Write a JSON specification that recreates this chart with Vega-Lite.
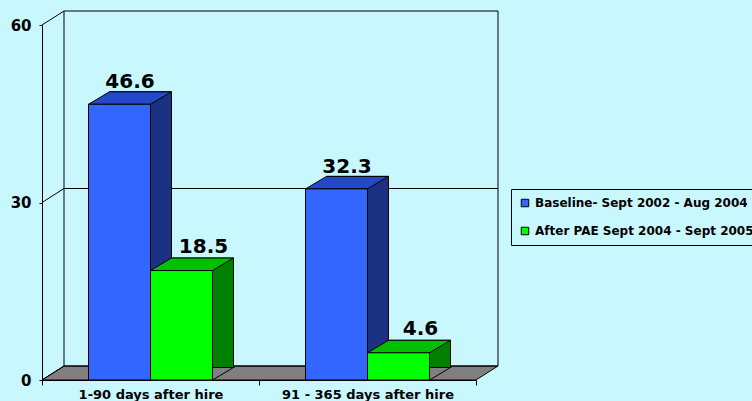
{
  "$schema": "https://vega.github.io/schema/vega-lite/v6.json",
  "width": 434,
  "height": 355,
  "autosize": "none",
  "padding": {"left": 42, "top": 25, "right": 276, "bottom": 21},
  "background": "#C8F8FE",
  "config": {
    "view": {"stroke": null},
    "font": "DejaVu Sans",
    "axis": {"domainColor": "black", "tickColor": "black", "labelFont": "DejaVu Sans", "labelFontWeight": "bold", "labelColor": "black", "grid": false, "labelLimit": 300},
    "axisX": {"labelAngle": 0, "labelAlign": "center", "labelBaseline": "top", "tickBand": "extent", "tickSize": 5, "labelFontSize": 13, "labelPadding": 3},
    "axisY": {"tickSize": 3, "labelAlign": "right", "labelBaseline": "middle", "labelFontSize": 15, "labelPadding": 8, "labelFlush": false, "labelOverlap": false}
  },
  "data": {
    "values": [
      {"period": "1-90 days after hire", "series": "Baseline- Sept 2002 - Aug 2004", "value": 46.6},
      {"period": "1-90 days after hire", "series": "After PAE Sept 2004 - Sept 2005", "value": 18.5},
      {"period": "91 - 365 days after hire", "series": "Baseline- Sept 2002 - Aug 2004", "value": 32.3},
      {"period": "91 - 365 days after hire", "series": "After PAE Sept 2004 - Sept 2005", "value": 4.6}
    ]
  },
  "resolve": {"scale": {"xOffset": "independent"}},
  "layer": [
    {
      "description": "floor of the 3D box",
      "data": {"values": [{}]},
      "mark": {"type": "point", "shape": "M0,0L434,0L456,-14L22,-14Z", "size": 4, "filled": true, "fill": "#808080", "stroke": "black", "strokeWidth": 1, "opacity": 1},
      "encoding": {"x": {"value": 0}, "y": {"datum": 0, "type": "quantitative", "axis": {"title": null, "values": [0, 30, 60], "labelAlign": "right"}}}
    },
    {
      "description": "back wall outline",
      "data": {"values": [{}]},
      "mark": {"type": "rect", "fill": "transparent", "stroke": "black", "strokeWidth": 1, "xOffset": 22, "x2Offset": 22, "yOffset": -14, "y2Offset": -14},
      "encoding": {"x": {"value": 0}, "x2": {"value": "width"}, "y": {"datum": 60, "type": "quantitative", "axis": {"title": null, "values": [0, 30, 60], "labelAlign": "right"}}, "y2": {"datum": 0}}
    },
    {
      "description": "gridline on the back wall",
      "data": {"values": [{}]},
      "mark": {"type": "rule", "color": "black", "strokeWidth": 1, "xOffset": 22, "x2Offset": 22, "yOffset": -14},
      "encoding": {"x": {"value": 0}, "x2": {"value": "width"}, "y": {"datum": 30, "type": "quantitative", "axis": {"title": null, "values": [0, 30, 60], "labelAlign": "right"}}}
    },
    {
      "description": "gridlines running along the side wall",
      "data": {"values": [{"level": 0}, {"level": 30}, {"level": 60}]},
      "mark": {"type": "rule", "color": "black", "strokeWidth": 1, "x2Offset": 22, "y2Offset": -14},
      "encoding": {
        "x": {"value": 0},
        "x2": {"value": 0},
        "y": {"field": "level", "type": "quantitative", "axis": {"title": null, "values": [0, 30, 60], "labelAlign": "right"}},
        "y2": {"field": "level"}
      }
    },
    {
      "description": "rear box of each column, seen as its right side",
      "mark": {"type": "bar", "stroke": "black", "strokeWidth": 1, "yOffset": -12.5, "y2Offset": 0.01},
      "encoding": {
        "x": {"field": "period", "type": "nominal", "sort": null, "scale": {"paddingInner": 0, "paddingOuter": 0}, "axis": {"title": null}},
        "y": {"field": "value", "type": "quantitative", "scale": {"domain": [0, 60], "nice": false}, "axis": {"title": null, "values": [0, 30, 60], "labelAlign": "right"}},
        "xOffset": {
          "field": "series",
          "type": "nominal",
          "scale": {"domain": ["Baseline- Sept 2002 - Aug 2004", "After PAE Sept 2004 - Sept 2005"], "range": [21, 238], "paddingInner": 0, "paddingOuter": 0.75}
        },
        "fill": {
          "condition": {"test": "datum.series === 'Baseline- Sept 2002 - Aug 2004'", "value": "#1B3282"},
          "value": "#008000"
        }
      }
    },
    {
      "description": "floor showing beside the foot of each column",
      "mark": {"type": "point", "shape": "M53,0L31,0L52,-12.5L53,-12.5", "size": 4, "filled": true, "fill": "#808080", "stroke": "black", "strokeWidth": 1, "opacity": 1},
      "encoding": {
        "x": {"field": "period", "type": "nominal", "sort": null, "scale": {"paddingInner": 0, "paddingOuter": 0}, "axis": {"title": null}},
        "xOffset": {
          "field": "series",
          "type": "nominal",
          "scale": {"type": "band", "domain": ["Baseline- Sept 2002 - Aug 2004", "After PAE Sept 2004 - Sept 2005"], "paddingInner": 0, "paddingOuter": 0.75}
        },
        "y": {"datum": 0, "type": "quantitative", "axis": {"title": null, "values": [0, 30, 60], "labelAlign": "right"}}
      }
    },
    {
      "description": "top face of each column",
      "mark": {"type": "point", "shape": "M-31,0L31,0L52,-12.5L-10,-12.5Z", "size": 4, "filled": true, "stroke": "black", "strokeWidth": 1, "opacity": 1},
      "encoding": {
        "x": {"field": "period", "type": "nominal", "sort": null, "scale": {"paddingInner": 0, "paddingOuter": 0}, "axis": {"title": null}},
        "y": {"field": "value", "type": "quantitative", "scale": {"domain": [0, 60], "nice": false}, "axis": {"title": null, "values": [0, 30, 60], "labelAlign": "right"}},
        "xOffset": {
          "field": "series",
          "type": "nominal",
          "scale": {"type": "band", "domain": ["Baseline- Sept 2002 - Aug 2004", "After PAE Sept 2004 - Sept 2005"], "paddingInner": 0, "paddingOuter": 0.75}
        },
        "fill": {
          "condition": {"test": "datum.series === 'Baseline- Sept 2002 - Aug 2004'", "value": "#2449C8"},
          "value": "#00C000"
        }
      }
    },
    {
      "description": "front face of each column",
      "mark": {"type": "bar", "stroke": "black", "strokeWidth": 1},
      "encoding": {
        "x": {"field": "period", "type": "nominal", "sort": null, "scale": {"paddingInner": 0, "paddingOuter": 0}, "axis": {"title": null}},
        "y": {"field": "value", "type": "quantitative", "scale": {"domain": [0, 60], "nice": false}, "axis": {"title": null, "values": [0, 30, 60], "labelAlign": "right"}},
        "xOffset": {
          "field": "series",
          "type": "nominal",
          "scale": {"domain": ["Baseline- Sept 2002 - Aug 2004", "After PAE Sept 2004 - Sept 2005"], "paddingInner": 0, "paddingOuter": 0.75}
        },
        "fill": {
          "field": "series",
          "type": "nominal",
          "scale": {"domain": ["Baseline- Sept 2002 - Aug 2004", "After PAE Sept 2004 - Sept 2005"], "range": ["#3366FF", "#00FF00"]},
          "legend": {
            "title": null,
            "orient": "none",
            "legendX": 469,
            "legendY": 164,
            "symbolType": "square",
            "symbolSize": 56,
            "symbolStrokeColor": "black",
            "symbolStrokeWidth": 1,
            "labelFont": "DejaVu Sans",
            "labelFontWeight": "bold",
            "labelFontSize": 12,
            "labelColor": "black",
            "labelOffset": 4,
            "labelLimit": 400,
            "rowPadding": 16,
            "padding": 8,
            "strokeColor": "black",
            "fillColor": "#C8F8FE"
          }
        }
      }
    },
    {
      "description": "value labels, baseline series",
      "transform": [{"filter": "datum.series === 'Baseline- Sept 2002 - Aug 2004'"}],
      "mark": {"type": "text", "font": "DejaVu Sans", "fontWeight": "bold", "fontSize": 20, "color": "black", "align": "center", "baseline": "alphabetic", "dx": 10.5, "dy": -16},
      "encoding": {
        "x": {"field": "period", "type": "nominal", "sort": null, "scale": {"paddingInner": 0, "paddingOuter": 0}, "axis": {"title": null}},
        "y": {"field": "value", "type": "quantitative", "scale": {"domain": [0, 60], "nice": false}, "axis": {"title": null, "values": [0, 30, 60], "labelAlign": "right"}},
        "xOffset": {
          "field": "series",
          "type": "nominal",
          "scale": {"type": "band", "domain": ["Baseline- Sept 2002 - Aug 2004", "After PAE Sept 2004 - Sept 2005"], "paddingInner": 0, "paddingOuter": 0.75}
        },
        "text": {"field": "value", "type": "quantitative", "format": ".1f"}
      }
    },
    {
      "description": "value labels, after-PAE series",
      "transform": [{"filter": "datum.series === 'After PAE Sept 2004 - Sept 2005'"}],
      "mark": {"type": "text", "font": "DejaVu Sans", "fontWeight": "bold", "fontSize": 20, "color": "black", "align": "center", "baseline": "alphabetic", "dx": 22, "dy": -17.5},
      "encoding": {
        "x": {"field": "period", "type": "nominal", "sort": null, "scale": {"paddingInner": 0, "paddingOuter": 0}, "axis": {"title": null}},
        "y": {"field": "value", "type": "quantitative", "scale": {"domain": [0, 60], "nice": false}, "axis": {"title": null, "values": [0, 30, 60], "labelAlign": "right"}},
        "xOffset": {
          "field": "series",
          "type": "nominal",
          "scale": {"type": "band", "domain": ["Baseline- Sept 2002 - Aug 2004", "After PAE Sept 2004 - Sept 2005"], "paddingInner": 0, "paddingOuter": 0.75}
        },
        "text": {"field": "value", "type": "quantitative", "format": ".1f"}
      }
    }
  ]
}
